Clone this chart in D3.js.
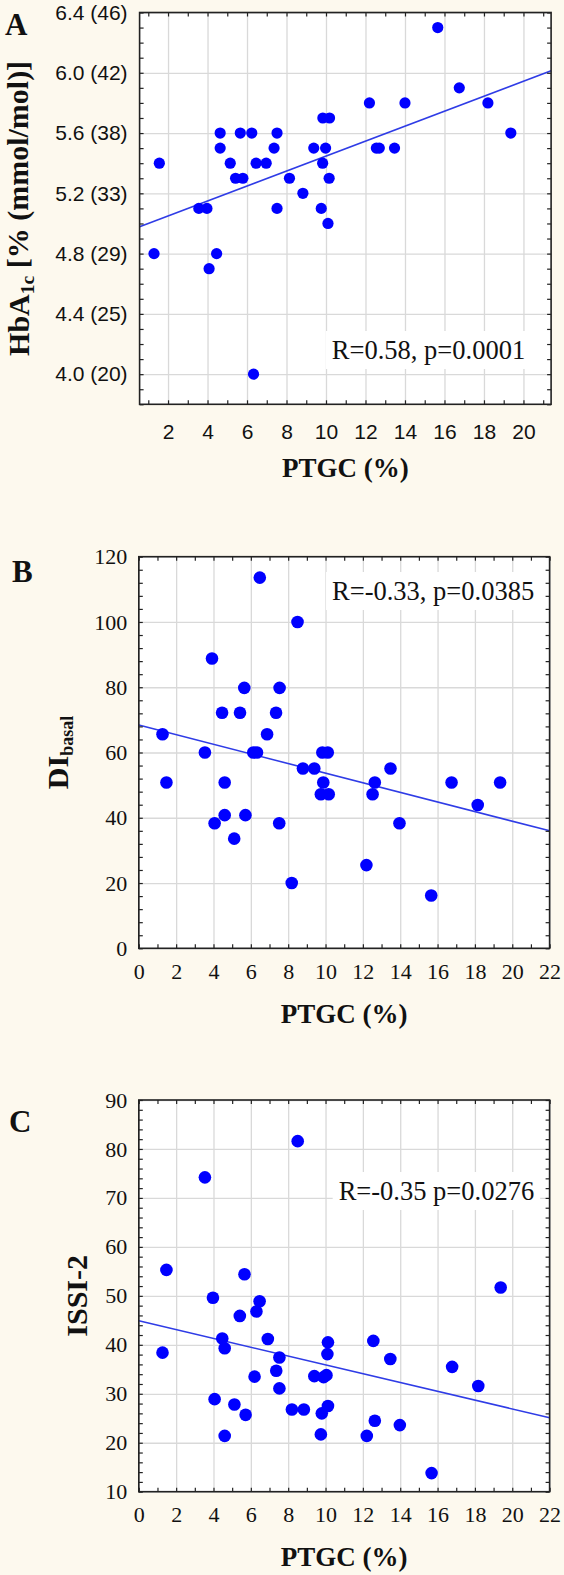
<!DOCTYPE html>
<html><head><meta charset="utf-8">
<script src="https://cdn.jsdelivr.net/npm/d3@7"></script>
<style>
html,body{margin:0;padding:0;background:#fdf9ee;}
svg{display:block;}
</style></head><body>
<svg id="chart" width="564" height="1575"></svg>
<script>
// ---------- Data ----------
// Panel A: PTGC (%) vs HbA1c (%)
const ptgcA = [15.66,16.75,12.2,14.0,18.2,19.36,9.84,10.18,4.64,5.66,6.24,7.52,4.64,7.37,9.38,9.98,12.55,12.7,13.47,1.56,5.15,6.46,6.97,9.83,5.42,5.79,8.15,10.16,8.83,3.56,3.97,7.52,9.76,10.1,1.29,4.46,4.08,6.33];
const hba1c = [6.3,5.9,5.8,5.8,5.8,5.6,5.7,5.7,5.6,5.6,5.6,5.6,5.5,5.5,5.5,5.5,5.5,5.5,5.5,5.4,5.4,5.4,5.4,5.4,5.3,5.3,5.3,5.3,5.2,5.1,5.1,5.1,5.1,5.0,4.8,4.8,4.7,4.0];
// Panel B: PTGC (%) vs DI basal
const ptgcB = [6.48,8.5,3.92,5.65,7.54,4.46,5.42,7.35,6.87,1.27,3.54,6.13,6.33,9.83,10.12,8.79,9.4,13.48,1.48,4.6,9.88,12.64,16.75,19.35,9.75,10.17,12.52,18.15,4.6,5.71,4.06,7.52,13.96,5.11,12.19,8.19,15.66];
const diBasal = [113.6,100,88.8,79.8,79.8,72.2,72.2,72.2,65.6,65.6,60,60,60,60,60,55.1,55.1,55.1,50.8,50.8,50.8,50.8,50.8,50.8,47.2,47.2,47.2,43.9,40.8,40.8,38.3,38.3,38.3,33.6,25.5,20,16.2];
// Panel C: PTGC (%) vs ISSI-2
const ptgcC = [8.51,3.54,1.48,5.66,19.38,3.97,6.47,6.3,5.41,4.47,6.91,12.56,10.13,4.6,1.27,10.1,7.53,13.47,16.78,7.36,6.2,9.4,9.9,10.05,7.53,18.18,4.06,5.12,10.13,8.2,8.84,9.8,5.72,12.64,13.98,9.75,4.6,12.21,15.68];
const issi2 = [81.6,74.2,55.3,54.4,51.7,49.6,48.9,46.8,45.9,41.3,41.2,40.8,40.5,39.3,38.4,38.1,37.4,37.1,35.5,34.7,33.5,33.6,33.4,33.8,31.1,31.6,28.9,27.8,27.5,26.8,26.8,26.0,25.7,24.5,23.6,21.7,21.4,21.4,13.8];

// Regression lines [intercept, slope]
const fitA = [4.95, 0.0497];
const fitB = [68.4, -1.473];
const fitC = [44.9, -0.9];

// Axis ranges and ticks
const xDomainA = [0.56, 21.4];
const xTicksA = [2,4,6,8,10,12,14,16,18,20];
const xMinorA = d3.range(1, 22);
const yDomainA = [3.8, 6.4];
const yTicksA = [4.0,4.4,4.8,5.2,5.6,6.0,6.4];
const yTickLabelsA = ["4.0 (20)","4.4 (25)","4.8 (29)","5.2 (33)","5.6 (38)","6.0 (42)","6.4 (46)"];
const yMinorA = d3.range(38, 65).map(d => d / 10);

const xDomainBC = [0, 22];
const xTicksBC = [0,2,4,6,8,10,12,14,16,18,20,22];
const xMinorBC = d3.range(0, 23);
const yDomainB = [0, 120];
const yTicksB = [0,20,40,60,80,100,120];
const yMinorB = d3.range(0, 121, 4);
const yDomainC = [10, 90];
const yTicksC = [10,20,30,40,50,60,70,80,90];
const yMinorC = d3.range(10, 91, 2);

const statA = "R=0.58, p=0.0001";
const statB = "R=-0.33, p=0.0385";
const statC = "R=-0.35 p=0.0276";
const xTitle = "PTGC (%)";

// ---------- Drawing ----------
const svg = d3.select("#chart");
const SERIF = "'Liberation Serif','Times New Roman',serif";
const SANS = "'Liberation Sans',Arial,sans-serif";

function panel(cfg) {
  const g = svg.append("g");
  const x = d3.scaleLinear().domain(cfg.xDomain).range([cfg.left, cfg.right]);
  const y = d3.scaleLinear().domain(cfg.yDomain).range([cfg.bottom, cfg.top]);
  const W = cfg.right - cfg.left, H = cfg.bottom - cfg.top;

  g.append("rect").attr("x", cfg.left).attr("y", cfg.top).attr("width", W).attr("height", H).attr("fill", "#fff");

  // grid
  g.append("g").attr("transform", `translate(0,${cfg.bottom})`)
    .call(d3.axisBottom(x).tickValues(cfg.xTicks).tickSize(-H).tickFormat(""))
    .call(s => { s.select(".domain").remove(); s.selectAll("line").attr("stroke", "#d9d9d9").attr("stroke-width", 1.3); });
  g.append("g").attr("transform", `translate(${cfg.left},0)`)
    .call(d3.axisLeft(y).tickValues(cfg.yTicks).tickSize(-W).tickFormat(""))
    .call(s => { s.select(".domain").remove(); s.selectAll("line").attr("stroke", "#d9d9d9").attr("stroke-width", 1.3); });

  // stat text with white backing
  const bg = g.append("rect").attr("fill", "#fff");
  const st = g.append("text").attr("x", cfg.statX).attr("y", cfg.statY)
    .attr("text-anchor", "end").attr("font-family", SERIF).attr("font-size", 26.5)
    .attr("fill", "#111").text(cfg.stat);
  const bb = st.node().getBBox();
  bg.attr("x", bb.x - 6).attr("y", bb.y - 4).attr("width", bb.width + 12).attr("height", bb.height + 8);

  // regression line
  const line = d3.line().x(d => x(d)).y(d => y(cfg.fit[0] + cfg.fit[1] * d));
  g.append("path").datum(cfg.xDomain).attr("d", line).attr("fill", "none").attr("stroke", "#2f3ce6").attr("stroke-width", 1.6);

  // points
  g.append("g").selectAll("circle").data(cfg.xs).join("circle")
    .attr("cx", d => x(d)).attr("cy", (d, i) => y(cfg.ys[i])).attr("r", cfg.r).attr("fill", "#0000ff");

  // minor ticks all four sides (inward)
  const tickStyle = s => { s.select(".domain").remove(); s.selectAll("line").attr("stroke", "#222").attr("stroke-width", 1.2); };
  g.append("g").attr("transform", `translate(0,${cfg.bottom})`).call(d3.axisBottom(x).tickValues(cfg.xMinor).tickSize(-4).tickFormat("")).call(tickStyle);
  g.append("g").attr("transform", `translate(0,${cfg.top})`).call(d3.axisTop(x).tickValues(cfg.xMinor).tickSize(-4).tickFormat("")).call(tickStyle);
  g.append("g").attr("transform", `translate(${cfg.left},0)`).call(d3.axisLeft(y).tickValues(cfg.yMinor).tickSize(-4).tickFormat("")).call(tickStyle);
  g.append("g").attr("transform", `translate(${cfg.right},0)`).call(d3.axisRight(y).tickValues(cfg.yMinor).tickSize(-4).tickFormat("")).call(tickStyle);

  // frame
  g.append("rect").attr("x", cfg.left).attr("y", cfg.top).attr("width", W).attr("height", H)
    .attr("fill", "none").attr("stroke", "#222").attr("stroke-width", 1.6);

  // tick labels
  const lab = s => { s.select(".domain").remove(); s.selectAll("text").attr("font-family", cfg.tickFont).attr("font-size", cfg.tickSize).attr("fill", "#111"); };
  g.append("g").attr("transform", `translate(0,${cfg.bottom})`)
    .call(d3.axisBottom(x).tickValues(cfg.xTicks).tickSize(0).tickPadding(cfg.xPad).tickFormat(d3.format("d")))
    .call(lab);
  g.append("g").attr("transform", `translate(${cfg.left},0)`)
    .call(d3.axisLeft(y).tickValues(cfg.yTicks).tickSize(0).tickPadding(cfg.yPad).tickFormat((d, i) => cfg.yLabels[i]))
    .call(lab);

  // x title
  g.append("text").attr("x", (cfg.left + cfg.right) / 2).attr("y", cfg.xTitleY).attr("text-anchor", "middle")
    .attr("font-family", SERIF).attr("font-weight", "bold").attr("font-size", 27).attr("fill", "#111").text(xTitle);

  // panel letter
  g.append("text").attr("x", cfg.letterX).attr("y", cfg.letterY).attr("font-family", SERIF)
    .attr("font-weight", "bold").attr("font-size", 31).attr("fill", "#111").text(cfg.letter);

  // y title
  const yt = g.append("text").attr("transform", `translate(${cfg.yTitleX},${(cfg.top + cfg.bottom) / 2}) rotate(-90)`)
    .attr("text-anchor", "middle").attr("font-family", SERIF).attr("font-weight", "bold")
    .attr("font-size", cfg.yTitleSize).attr("fill", "#111");
  cfg.yTitle(yt);
}

panel({
  left: 139.6, right: 551.1, top: 12.5, bottom: 404.3,
  xDomain: xDomainA, yDomain: yDomainA, xTicks: xTicksA, yTicks: yTicksA,
  xMinor: xMinorA, yMinor: yMinorA, yLabels: yTickLabelsA,
  xs: ptgcA, ys: hba1c, fit: fitA, r: 5.6,
  stat: statA, statX: 525.2, statY: 359,
  tickFont: SANS, tickSize: 21, xPad: 20, yPad: 12,
  xTitleY: 477, letter: "A", letterX: 5, letterY: 35,
  yTitleX: 28.5, yTitleSize: 30,
  yTitle: t => { t.append("tspan").text("HbA"); t.append("tspan").attr("font-size", "0.65em").attr("dy", "0.3em").text("1c");
                 t.append("tspan").attr("dy", "-0.2em").text(" [% (mmol/mol)]"); }
});

panel({
  left: 138.8, right: 549.6, top: 556.7, bottom: 948.3,
  xDomain: xDomainBC, yDomain: yDomainB, xTicks: xTicksBC, yTicks: yTicksB,
  xMinor: xMinorBC, yMinor: yMinorB, yLabels: yTicksB.map(String),
  xs: ptgcB, ys: diBasal, fit: fitB, r: 6.3,
  stat: statB, statX: 534.2, statY: 600,
  tickFont: SERIF, tickSize: 22, xPad: 15, yPad: 11.5,
  xTitleY: 1023, letter: "B", letterX: 12, letterY: 582,
  yTitleX: 68, yTitleSize: 30,
  yTitle: t => { t.append("tspan").text("DI"); t.append("tspan").attr("font-size", "0.6em").attr("dy", "0.3em").text("basal"); }
});

panel({
  left: 138.8, right: 549.6, top: 1100, bottom: 1491.7,
  xDomain: xDomainBC, yDomain: yDomainC, xTicks: xTicksBC, yTicks: yTicksC,
  xMinor: xMinorBC, yMinor: yMinorC, yLabels: yTicksC.map(String),
  xs: ptgcC, ys: issi2, fit: fitC, r: 6.3,
  stat: statC, statX: 534.2, statY: 1200,
  tickFont: SERIF, tickSize: 22, xPad: 15, yPad: 11.5,
  xTitleY: 1566, letter: "C", letterX: 9, letterY: 1132,
  yTitleX: 87, yTitleSize: 30,
  yTitle: t => { t.append("tspan").text("ISSI-2"); }
});
</script>
</body></html>
